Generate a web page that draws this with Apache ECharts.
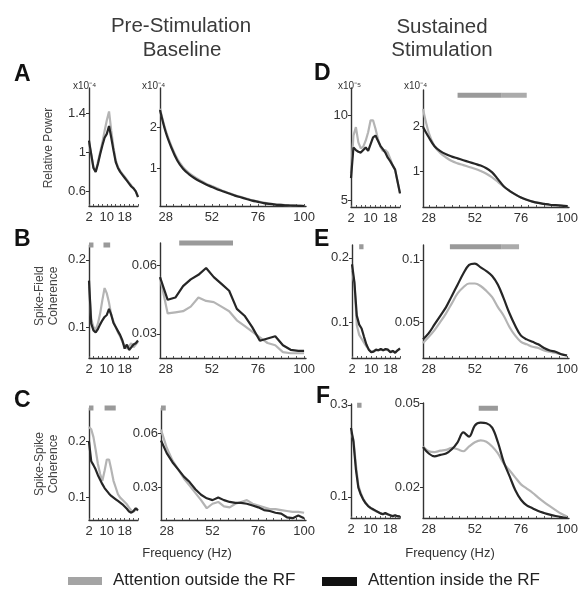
<!DOCTYPE html>
<html><head><meta charset="utf-8">
<script src="https://cdn.jsdelivr.net/npm/echarts@6/dist/echarts.min.js"></script>
<style>html,body{margin:0;padding:0;background:#fff}#c{width:584px;height:589px}</style>
</head><body><div id="c"></div>
<script>
const FONT = "'Liberation Sans', Arial, Helvetica, sans-serif";

// ---------- frequencies & tick labels ----------
const lowFreqABC = [2,3,4,5,6,7,8,9,10,11,12,13,14,15,16,17,18,19,20,21,22,23,24];
const lowFreqDEF = [2,3,4,5,6,7,8,9,10,11,12,13,14,15,16,17,18,19,20,21,22];
const highFreq = [25,28,31,34,37,40,43,46,49,52,55,58,61,64,67,70,73,76,79,82,85,88,91,94,97,100];
const highFreqB = [25,29,33,37,41,45,49,53,57,61,65,69,73,77,81,85,89,93,97,100];
const lowXLabels = [2,10,18];
const highXLabels = [28,52,76,100];
const lowXTicks = [2,4,6,8,10,12,14,16,18,20,22,24];
const highXTicks = [28,32,36,40,44,48,52,56,60,64,68,72,76,80,84,88,92,96,100];

// ---------- A: relative power, pre-stimulation ----------
const aLowOut = [1.10,0.98,0.85,0.80,0.90,1.00,1.10,1.22,1.33,1.42,1.22,1.05,0.92,0.85,0.81,0.78,0.75,0.72,0.69,0.66,0.63,0.60,0.55];
const aLowIn  = [1.12,0.98,0.84,0.80,0.88,0.98,1.07,1.15,1.19,1.27,1.15,1.02,0.90,0.84,0.80,0.77,0.74,0.71,0.68,0.65,0.63,0.60,0.54];
const aHighOut = [2.45,1.92,1.54,1.24,1.04,0.90,0.80,0.72,0.64,0.58,0.52,0.46,0.41,0.36,0.32,0.28,0.24,0.21,0.18,0.16,0.14,0.13,0.12,0.115,0.11,0.105];
const aHighIn  = [2.42,1.88,1.50,1.20,1.00,0.87,0.77,0.69,0.62,0.56,0.50,0.45,0.40,0.35,0.31,0.27,0.23,0.20,0.17,0.15,0.135,0.125,0.115,0.11,0.105,0.10];
const aLowY = [0.6,1,1.4];
const aHighY = [1,2];

// ---------- B: spike-field coherence, pre-stimulation ----------
const bLowOut = [0.160,0.112,0.100,0.096,0.105,0.120,0.140,0.158,0.150,0.136,0.118,0.108,0.100,0.092,0.086,0.078,0.072,0.068,0.072,0.076,0.070,0.074,0.078];
const bLowIn  = [0.169,0.105,0.095,0.092,0.097,0.104,0.110,0.115,0.118,0.127,0.118,0.106,0.100,0.094,0.088,0.080,0.068,0.074,0.066,0.070,0.074,0.076,0.080];
const bHighOut = [0.055,0.039,0.0395,0.040,0.042,0.046,0.0445,0.044,0.042,0.040,0.036,0.0335,0.031,0.0285,0.026,0.025,0.022,0.0215,0.0215,0.0215];
const bHighIn  = [0.055,0.045,0.046,0.051,0.054,0.056,0.059,0.055,0.052,0.049,0.041,0.038,0.033,0.027,0.028,0.029,0.025,0.023,0.0225,0.0225];
const bLowY = [0.1,0.2];
const bHighY = [0.03,0.06];
const bLowSig = [[2,4],[8.5,11.5]];
const bHighSig = [[35,63]];

// ---------- C: spike-spike coherence, pre-stimulation ----------
const cLowOut = [0.226,0.222,0.208,0.185,0.160,0.142,0.130,0.148,0.168,0.168,0.150,0.130,0.118,0.106,0.100,0.096,0.092,0.088,0.082,0.077,0.075,0.079,0.080];
const cLowIn  = [0.200,0.165,0.158,0.150,0.140,0.132,0.124,0.117,0.112,0.107,0.103,0.100,0.097,0.094,0.091,0.088,0.084,0.080,0.075,0.073,0.076,0.081,0.077];
const cHighOut = [0.062,0.052,0.045,0.040,0.035,0.031,0.027,0.023,0.0185,0.021,0.022,0.0195,0.019,0.021,0.022,0.023,0.021,0.020,0.019,0.018,0.018,0.0175,0.017,0.0165,0.0165,0.016];
const cHighIn  = [0.056,0.049,0.044,0.040,0.036,0.033,0.029,0.026,0.024,0.023,0.0245,0.023,0.022,0.0215,0.0215,0.021,0.020,0.019,0.0175,0.017,0.016,0.0155,0.0135,0.013,0.0145,0.013];
const cLowY = [0.1,0.2];
const cHighY = [0.03,0.06];
const cLowSig = [[2,4],[9,14]];
const cHighSig = [[25,27.5]];

// ---------- D: relative power, sustained stimulation ----------
const dLowOut = [6.6,8.8,9.3,8.4,8.05,8.15,8.5,9.0,9.7,9.7,9.2,8.6,8.15,7.9,7.95,7.8,7.45,7.05,6.8,6.1,5.4];
const dLowIn  = [6.3,8.1,7.95,7.85,7.8,7.95,8.1,7.9,8.3,8.7,8.8,8.5,8.2,8.0,7.8,7.5,7.3,7.05,6.8,6.1,5.4];
const dHighOut = [2.38,1.85,1.55,1.40,1.30,1.22,1.17,1.13,1.09,1.05,1.00,0.94,0.86,0.76,0.65,0.56,0.48,0.41,0.36,0.32,0.29,0.27,0.25,0.24,0.23,0.22];
const dHighIn  = [1.98,1.75,1.55,1.44,1.37,1.32,1.28,1.24,1.20,1.16,1.12,1.06,0.97,0.82,0.66,0.56,0.48,0.41,0.36,0.32,0.29,0.27,0.25,0.24,0.23,0.22];
const dLowY = [5,10];
const dHighY = [1,2];
const dHighSig = [[43,66],[66,79]];

// ---------- E: spike-field coherence, sustained stimulation ----------
const eLowOut = [0.18,0.16,0.095,0.08,0.074,0.068,0.062,0.057,0.054,0.055,0.056,0.056,0.057,0.056,0.057,0.056,0.054,0.055,0.053,0.056,0.058];
const eLowIn  = [0.19,0.162,0.11,0.096,0.09,0.077,0.065,0.057,0.053,0.054,0.057,0.056,0.058,0.056,0.058,0.057,0.053,0.055,0.052,0.056,0.059];
const eHighOut = [0.033,0.038,0.0435,0.050,0.057,0.065,0.073,0.078,0.081,0.081,0.079,0.075,0.070,0.062,0.055,0.046,0.039,0.034,0.032,0.030,0.029,0.027,0.026,0.025,0.024,0.023];
const eHighIn  = [0.036,0.041,0.048,0.055,0.062,0.071,0.080,0.089,0.096,0.097,0.094,0.091,0.087,0.080,0.069,0.057,0.047,0.039,0.036,0.034,0.032,0.029,0.027,0.026,0.024,0.023];
const eLowY = [0.1,0.2];
const eHighY = [0.05,0.1];
const eLowSig = [[5,6.8]];
const eHighSig = [[39,66],[66,75]];

// ---------- F: spike-spike coherence, sustained stimulation ----------
const fLowOut = [0.24,0.225,0.17,0.125,0.108,0.096,0.087,0.08,0.075,0.072,0.069,0.067,0.065,0.063,0.063,0.062,0.06,0.059,0.059,0.058,0.057];
const fLowIn  = [0.25,0.22,0.16,0.12,0.105,0.094,0.086,0.08,0.076,0.073,0.07,0.067,0.064,0.062,0.065,0.062,0.06,0.058,0.06,0.058,0.057];
const fHighOut = [0.0345,0.0328,0.0325,0.033,0.0333,0.034,0.0335,0.0328,0.0345,0.036,0.0367,0.0362,0.0345,0.032,0.0285,0.026,0.0235,0.021,0.0195,0.018,0.0163,0.0147,0.0132,0.0118,0.0105,0.0095];
const fHighIn  = [0.0343,0.032,0.031,0.0315,0.032,0.0335,0.036,0.0395,0.038,0.042,0.043,0.0428,0.0412,0.036,0.029,0.024,0.019,0.0155,0.0135,0.0125,0.0115,0.0108,0.0102,0.0097,0.0093,0.009];
const fLowY = [0.1,0.3];
const fHighY = [0.02,0.05];
const fLowSig = [[4.5,6.3]];
const fHighSig = [[54,64]];

// ---------- layout (positions only) ----------
const OUT_COLOR = '#b4b4b4', IN_COLOR = '#262626';
const panels = [
  {rect:[89,88,49,118],  x:[2,24],   y:[0.45,1.66],   f:lowFreqABC, out:aLowOut, inn:aLowIn, yl:aLowY, low:true, smooth:false},
  {rect:[160,88,146,118],x:[25,101], y:[0.1,2.95],    f:highFreq,   out:aHighOut, inn:aHighIn, yl:aHighY, smooth:true},
  {rect:[89,245,49,113], x:[2,24],   y:[0.054,0.222], f:lowFreqABC, out:bLowOut, inn:bLowIn, yl:bLowY, low:true, sig:bLowSig, sigPos:1.0},
  {rect:[160,243,146,115],x:[25,101],y:[0.0194,0.070],f:highFreqB,  out:bHighOut, inn:bHighIn, yl:bHighY, sig:bHighSig, sigPos:1.0},
  {rect:[89,408,49,112], x:[2,24],   y:[0.06,0.26],   f:lowFreqABC, out:cLowOut, inn:cLowIn, yl:cLowY, low:true, sig:cLowSig, sigPos:1.0},
  {rect:[161,408,145,112],x:[25,101],y:[0.012,0.074], f:highFreq,   out:cHighOut, inn:cHighIn, yl:cHighY, sig:cHighSig, sigPos:1.0},
  {rect:[351,88,49,119], x:[2,22],   y:[4.6,11.6],    f:lowFreqDEF, out:dLowOut, inn:dLowIn, yl:dLowY, low:true},
  {rect:[423,90,146,117],x:[25,101], y:[0.2,2.8],     f:highFreq,   out:dHighOut, inn:dHighIn, yl:dHighY, smooth:true, sig:dHighSig, sigPos:0.955, sigColors:['#9a9a9a','#ababab']},
  {rect:[352,245,48,113],x:[2,22],   y:[0.044,0.22],  f:lowFreqDEF, out:eLowOut, inn:eLowIn, yl:eLowY, low:true, sig:eLowSig, sigPos:0.985},
  {rect:[423,245,146,113],x:[25,101],y:[0.021,0.112], f:highFreq,   out:eHighOut, inn:eHighIn, yl:eHighY, smooth:true, sig:eHighSig, sigPos:0.985, sigColors:['#9a9a9a','#ababab']},
  {rect:[351,404,49,114],x:[2,22],   y:[0.054,0.302], f:lowFreqDEF, out:fLowOut, inn:fLowIn, yl:fLowY, low:true, sig:fLowSig, sigPos:0.99},
  {rect:[423,403,146,115],x:[25,101],y:[0.009,0.05],  f:highFreq,   out:fHighOut, inn:fHighIn, yl:fHighY, smooth:true, sig:fHighSig, sigPos:0.955}
];

const grids = [], xAxes = [], yAxes = [], series = [];
panels.forEach((p, i) => {
  grids.push({left:p.rect[0], top:p.rect[1], width:p.rect[2], height:p.rect[3], containLabel:false, outerBoundsMode:'none'});
  xAxes.push({
    type:'value', gridIndex:i, min:p.x[0], max:p.x[1],
    axisLine:{show:true, lineStyle:{color:'#333', width:1.4}},
    splitLine:{show:false},
    axisTick:{show:true, customValues:p.low ? lowXTicks : highXTicks, inside:true, length:2, lineStyle:{color:'#555', width:1}},
    axisLabel:{customValues:p.low ? lowXLabels : highXLabels, fontSize:13, color:'#333', margin:5, fontFamily:FONT, showMinLabel:true, showMaxLabel:true, hideOverlap:false}
  });
  yAxes.push({
    type:'value', gridIndex:i, min:p.y[0], max:p.y[1],
    axisLine:{show:true, lineStyle:{color:'#333', width:1.4}},
    splitLine:{show:false},
    axisTick:{show:true, customValues:p.yl, length:3, lineStyle:{color:'#333'}},
    axisLabel:{customValues:p.yl, fontSize:13, color:'#333', margin:3, fontFamily:FONT, hideOverlap:false}
  });
  const mk = (vals) => p.f.map((f, k) => [f, vals[k]]);
  series.push({type:'line', xAxisIndex:i, yAxisIndex:i, data:mk(p.out), symbol:'none', smooth:p.smooth ? 0.35 : false,
    lineStyle:{color:OUT_COLOR, width:2.2}, z:2, silent:true});
  series.push({type:'line', xAxisIndex:i, yAxisIndex:i, data:mk(p.inn), symbol:'none', smooth:p.smooth ? 0.35 : false,
    lineStyle:{color:IN_COLOR, width:2.2}, z:3, silent:true});
  if (p.sig) {
    const yb = p.y[0] + (p.y[1] - p.y[0]) * p.sigPos;
    p.sig.forEach((s, k) => {
      const col = p.sigColors ? p.sigColors[k] : '#9a9a9a';
      series.push({type:'line', xAxisIndex:i, yAxisIndex:i, data:[[s[0], yb],[s[1], yb]], symbol:'none', clip:false,
        lineStyle:{color:col, width:5, cap:'butt'}, z:4, silent:true});
    });
  }
});

const txt = (x, y, text, o) => Object.assign({type:'text', x, y, silent:true,
  style:Object.assign({text, fill:'#333', font:`12px ${FONT}`, textAlign:'left', textVerticalAlign:'middle'}, (o||{}).style || {})},
  (o||{}).rotation !== undefined ? {rotation:o.rotation} : {});

const graphic = [
  txt(181, 26, 'Pre-Stimulation', {style:{font:`20.5px ${FONT}`, textAlign:'center', fill:'#3a3a3a'}}),
  txt(182, 50, 'Baseline', {style:{font:`20.5px ${FONT}`, textAlign:'center', fill:'#3a3a3a'}}),
  txt(442, 27, 'Sustained', {style:{font:`20.5px ${FONT}`, textAlign:'center', fill:'#3a3a3a'}}),
  txt(442, 50, 'Stimulation', {style:{font:`20.5px ${FONT}`, textAlign:'center', fill:'#3a3a3a'}}),
  txt(14, 75, 'A', {style:{font:`bold 23px ${FONT}`, fill:'#111'}}),
  txt(14, 240, 'B', {style:{font:`bold 23px ${FONT}`, fill:'#111'}}),
  txt(14, 401, 'C', {style:{font:`bold 23px ${FONT}`, fill:'#111'}}),
  txt(314, 74, 'D', {style:{font:`bold 23px ${FONT}`, fill:'#111'}}),
  txt(314, 240, 'E', {style:{font:`bold 23px ${FONT}`, fill:'#111'}}),
  txt(316, 397, 'F', {style:{font:`bold 23px ${FONT}`, fill:'#111'}}),
  txt(73, 86, 'x10⁻⁴', {style:{font:`10px ${FONT}`}}),
  txt(142, 86, 'x10⁻⁴', {style:{font:`10px ${FONT}`}}),
  txt(338, 86, 'x10⁻⁵', {style:{font:`10px ${FONT}`}}),
  txt(404, 86, 'x10⁻⁴', {style:{font:`10px ${FONT}`}}),
  txt(49, 148, 'Relative Power', {rotation:Math.PI/2, style:{font:`12px ${FONT}`, textAlign:'center', fill:'#444'}}),
  txt(47, 296, 'Spike-Field\nCoherence', {rotation:Math.PI/2, style:{font:`12px ${FONT}`, textAlign:'center', lineHeight:14, fill:'#444'}}),
  txt(47, 464, 'Spike-Spike\nCoherence', {rotation:Math.PI/2, style:{font:`12px ${FONT}`, textAlign:'center', lineHeight:14, fill:'#444'}}),
  txt(187, 553, 'Frequency (Hz)', {style:{font:`13px ${FONT}`, textAlign:'center'}}),
  txt(450, 553, 'Frequency (Hz)', {style:{font:`13px ${FONT}`, textAlign:'center'}}),
  {type:'rect', shape:{x:68, y:577, width:34, height:8}, style:{fill:'#a4a4a4'}, silent:true},
  txt(113, 580, 'Attention outside the RF', {style:{font:`17px ${FONT}`, fill:'#222'}}),
  {type:'rect', shape:{x:322, y:577, width:35, height:9}, style:{fill:'#111'}, silent:true},
  txt(368, 580, 'Attention inside the RF', {style:{font:`17px ${FONT}`, fill:'#222'}})
];

const chart = echarts.init(document.getElementById('c'), null, {renderer:'canvas'});
chart.setOption({animation:false, backgroundColor:'#fff', grid:grids, xAxis:xAxes, yAxis:yAxes, series, graphic});
</script>
</body></html>
